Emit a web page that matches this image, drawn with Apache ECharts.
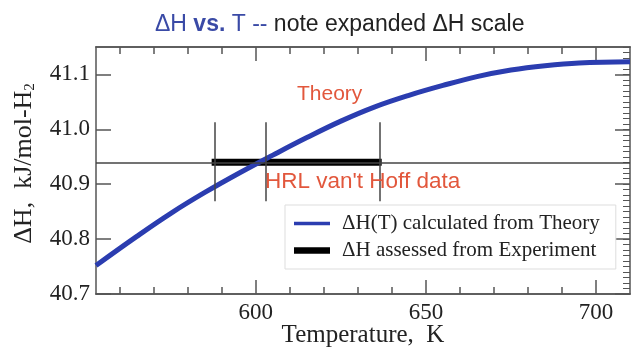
<!DOCTYPE html>
<html>
<head>
<meta charset="utf-8">
<script src="https://cdn.jsdelivr.net/npm/echarts@6/dist/echarts.min.js"></script>
<style>
  html, body { margin: 0; padding: 0; background: #fff; }
  #chart { width: 631px; height: 351px; }
</style>
</head>
<body>
<div id="chart"></div>
<script>
// theory curve
const temps = [553, 565, 575, 585, 595, 605, 615, 625, 635, 645, 655, 665, 675, 685, 695, 710];
const theoryDH = [40.752, 40.805, 40.847, 40.885, 40.92, 40.953, 40.985, 41.015, 41.041, 41.062, 41.08, 41.096, 41.108, 41.116, 41.121, 41.123];

// experiment (van't Hoff)
const expDH = 40.94;
const expRange = [587, 637];
const vantHoffTemps = [588, 603, 636.5];
const vantHoffSpan = [40.869, 41.013];

// axes
const xMin = 553, xMax = 710;
const yMin = 40.7, yMax = 41.15;
const xMajor = [600, 650, 700];
const xMinor = [560, 570, 580, 590, 610, 620, 630, 640, 660, 670, 680, 690];
const yMajor = [40.7, 40.8, 40.9, 41.0, 41.1];

const theoryName = "ΔH(T) calculated from Theory";
const expName = "ΔH assessed from Experiment";

const axisColor = "#555";
const serif = "Liberation Serif";

const chart = echarts.init(document.getElementById("chart"));

const helperX = (position, values, len) => ({
  type: "value", position, min: xMin, max: xMax,
  axisLine: { show: true, lineStyle: { color: axisColor, width: 1.5 } },
  axisTick: { show: true, inside: true, length: len, customValues: values, lineStyle: { color: axisColor, width: 1.5 } },
  axisLabel: { show: false },
  splitLine: { show: false },
});

const vLines = vantHoffTemps.map((t) => [
  { coord: [t, vantHoffSpan[0]] },
  { coord: [t, vantHoffSpan[1]] },
]);

chart.setOption({
  animation: false,
  title: {
    left: 150, top: 8,
    text: "{b|ΔH }{bb|vs.}{b| T -- }{k|note expanded ΔH scale}",
    textStyle: {
      rich: {
        b: { fontFamily: "Liberation Sans", fontSize: 23, fontWeight: "normal", color: "#3a4aa6" },
        bb: { fontFamily: "Liberation Sans", fontSize: 23, fontWeight: "bold", color: "#3a4aa6" },
        k: { fontFamily: "Liberation Sans", fontSize: 23, fontWeight: "normal", color: "#222" },
      },
    },
  },
  grid: { left: 96, right: 1, top: 47, bottom: 57, outerBoundsMode: "none" },
  legend: {
    left: 285, top: 205, orient: "vertical",
    backgroundColor: "#fff", borderColor: "#ddd", borderWidth: 1,
    padding: [8, 16, 8, 9], itemGap: 6, itemWidth: 36, itemHeight: 8,
    textStyle: { fontFamily: serif, fontSize: 21, color: "#222", padding: [0, 0, 0, 7] },
    data: [
      { name: theoryName, icon: "path://M0,0H40V4H0Z" },
      { name: expName, icon: "path://M0,0H40V7H0Z" },
    ],
  },
  xAxis: [
    {
      type: "value", position: "bottom", min: xMin, max: xMax,
      name: "Temperature,  K", nameLocation: "middle", nameGap: 29, nameMoveOverlap: false,
      nameTextStyle: { fontFamily: serif, fontSize: 25, color: "#222" },
      axisLine: { show: true, lineStyle: { color: axisColor, width: 1.5 } },
      axisTick: { show: true, inside: true, length: 14, customValues: xMajor, lineStyle: { color: axisColor, width: 1.5 } },
      axisLabel: { customValues: xMajor, margin: 7, fontFamily: serif, fontSize: 23, color: "#222" },
      splitLine: { show: false },
    },
    helperX("bottom", xMinor, 7),
    helperX("top", xMajor, 14),
    helperX("top", xMinor, 7),
  ],
  yAxis: [
    {
      type: "value", position: "left", min: yMin, max: yMax,
      name: "{a|ΔH,  kJ/mol-H}{s|2}", nameLocation: "middle", nameGap: 58, nameMoveOverlap: false,
      nameTextStyle: {
        padding: [0, 0, 0, 14],
        rich: {
          a: { fontFamily: serif, fontSize: 26, color: "#222" },
          s: { fontFamily: serif, fontSize: 15, color: "#222", padding: [13, 0, 0, 0] },
        },
      },
      axisLine: { show: true, lineStyle: { color: axisColor, width: 1.5 } },
      axisTick: { show: true, inside: true, length: 15, customValues: yMajor, lineStyle: { color: axisColor, width: 1.5 } },
      axisLabel: {
        customValues: yMajor, margin: 6, fontFamily: serif, fontSize: 23, color: "#222",
        formatter: (v) => v.toFixed(1),
      },
      splitLine: { show: false },
    },
    {
      type: "value", position: "right", min: yMin, max: yMax, interval: 0.01,
      axisLine: { show: true, lineStyle: { color: axisColor, width: 1.5 } },
      axisTick: { show: true, inside: true, length: 7, lineStyle: { color: axisColor, width: 1 } },
      axisLabel: { show: false },
      splitLine: { show: false },
    },
    {
      type: "value", position: "right", min: yMin, max: yMax,
      axisLine: { show: false },
      axisTick: { show: true, inside: true, length: 15, customValues: yMajor, lineStyle: { color: axisColor, width: 1.5 } },
      axisLabel: { show: false },
      splitLine: { show: false },
    },
  ],
  graphic: [
    { type: "text", left: 297, top: 84, z: 10,
      style: { text: "Theory", fill: "#e2573c", font: '21px "Liberation Sans"' } },
    { type: "text", left: 265, top: 170, z: 10,
      style: { text: "HRL van't Hoff data", fill: "#e2573c", font: '22.5px "Liberation Sans"' } },
  ],
  series: [
    {
      name: expName, type: "line", xAxisIndex: 0, yAxisIndex: 0,
      data: expRange.map((t) => [t, expDH]),
      showSymbol: false, silent: true, z: 3,
      lineStyle: { color: "#000", width: 7, cap: "butt" },
      itemStyle: { color: "#000" },
      markLine: {
        silent: true, symbol: "none", label: { show: false },
        lineStyle: { color: "#444", width: 1.5, type: "solid" },
        data: [{ yAxis: expDH }].concat(vLines),
      },
    },
    {
      name: theoryName, type: "line", xAxisIndex: 0, yAxisIndex: 0,
      data: temps.map((t, i) => [t, theoryDH[i]]),
      smooth: 0.4, showSymbol: false, z: 4,
      lineStyle: { color: "#2b3db0", width: 5 },
      itemStyle: { color: "#2b3db0" },
    },
  ],
});
</script>
</body>
</html>
